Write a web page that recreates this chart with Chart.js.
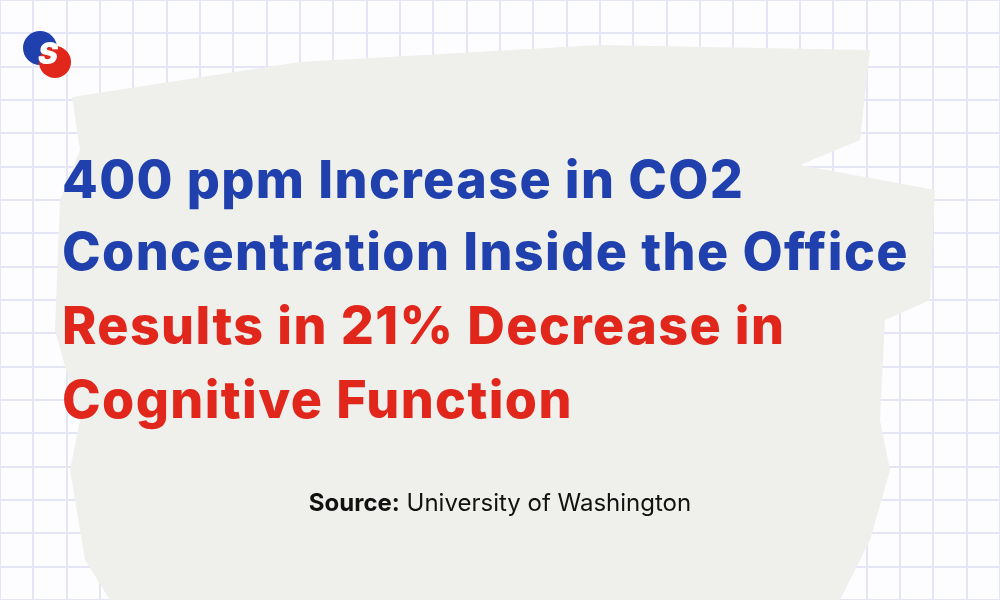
<!DOCTYPE html>
<html>
<head>
<meta charset="utf-8">
<script src="https://cdn.jsdelivr.net/npm/chart.js@4"></script>
<style>
  html, body { margin: 0; padding: 0; background: #fdfdff; }
  #wrap { position: relative; width: 1000px; height: 600px; overflow: hidden; }
  #grid { position: absolute; left: 0; top: 0; }
  .txt { position: absolute; left: 62px; font-family: Inter, "Noto Sans", sans-serif; font-weight: 800; font-size: 52px; white-space: nowrap; letter-spacing: 1.4px; line-height: 60px; }
  .blue { color: #1f40ad; }
  .red { color: #e1261c; }
  #src { position: absolute; top: 488px; left: 0; width: 1000px; text-align: center; font-family: Inter, "Noto Sans", sans-serif; font-size: 24px; color: #111; }
</style>
</head>
<body>
<div id="wrap">
  <canvas id="grid" width="1000" height="600"></canvas>
  <div class="txt blue" style="top:150px">400 ppm Increase in CO2</div>
  <div class="txt blue" style="top:222px">Concentration Inside the Office</div>
  <div class="txt red" style="top:296px">Results in 21% Decrease in</div>
  <div class="txt red" style="top:370px">Cognitive Function</div>
  <div id="src"><b>Source:</b> University of Washington</div>
</div>
<script>
// background grid cells (30 x 18)
const gridCols = 30;
const gridRows = 18;
const headline = ["400 ppm Increase in CO2", "Concentration Inside the Office"];
const highlight = ["Results in 21% Decrease in", "Cognitive Function"];

// brush stroke behind the text, drawn in pixels
const brushPlugin = {
    id: "brush",
    beforeDatasetsDraw(chart) {
        const ctx = chart.ctx;
        ctx.save();
        ctx.fillStyle = "#efefeb";
        ctx.beginPath();
        ctx.moveTo(72, 97);
        ctx.lineTo(300, 62);
        ctx.lineTo(600, 45);
        ctx.lineTo(870, 50);
        ctx.lineTo(860, 140);
        ctx.lineTo(800, 165);
        ctx.lineTo(935, 190);
        ctx.lineTo(930, 300);
        ctx.lineTo(885, 320);
        ctx.lineTo(880, 420);
        ctx.lineTo(890, 470);
        ctx.lineTo(870, 540);
        ctx.lineTo(840, 600);
        ctx.lineTo(110, 600);
        ctx.lineTo(85, 560);
        ctx.lineTo(70, 470);
        ctx.lineTo(80, 420);
        ctx.lineTo(55, 330);
        ctx.lineTo(60, 200);
        ctx.lineTo(80, 150);
        ctx.closePath();
        ctx.fill();

        // logo splash
        ctx.fillStyle = "#1f40ad";
        ctx.beginPath(); ctx.arc(40, 48, 17, 0, Math.PI * 2); ctx.fill();
        ctx.fillStyle = "#e1261c";
        ctx.beginPath(); ctx.arc(55, 62, 16, 0, Math.PI * 2); ctx.fill();
        ctx.fillStyle = "#fff";
        ctx.font = "italic 900 30px Inter";
        ctx.textAlign = "center";
        ctx.textBaseline = "middle";
        ctx.fillText("S", 48, 55);
        ctx.restore();
    }
};

new Chart(document.getElementById("grid").getContext("2d"), {
    type: "scatter",
    data: { datasets: [{ data: [] }] },
    options: {
        responsive: false,
        animation: false,
        layout: { padding: 0 },
        plugins: { legend: { display: false }, tooltip: { enabled: false } },
        scales: {
            x: {
                min: 0, max: gridCols, display: true,
                ticks: { display: false, stepSize: 1 },
                grid: { color: "#e4e6f7", lineWidth: 2, drawTicks: false },
                border: { display: false }
            },
            y: {
                min: 0, max: gridRows, display: true,
                ticks: { display: false, stepSize: 1 },
                grid: { color: "#e4e6f7", lineWidth: 2, drawTicks: false },
                border: { display: false }
            }
        }
    },
    plugins: [brushPlugin]
});
</script>
</body>
</html>
